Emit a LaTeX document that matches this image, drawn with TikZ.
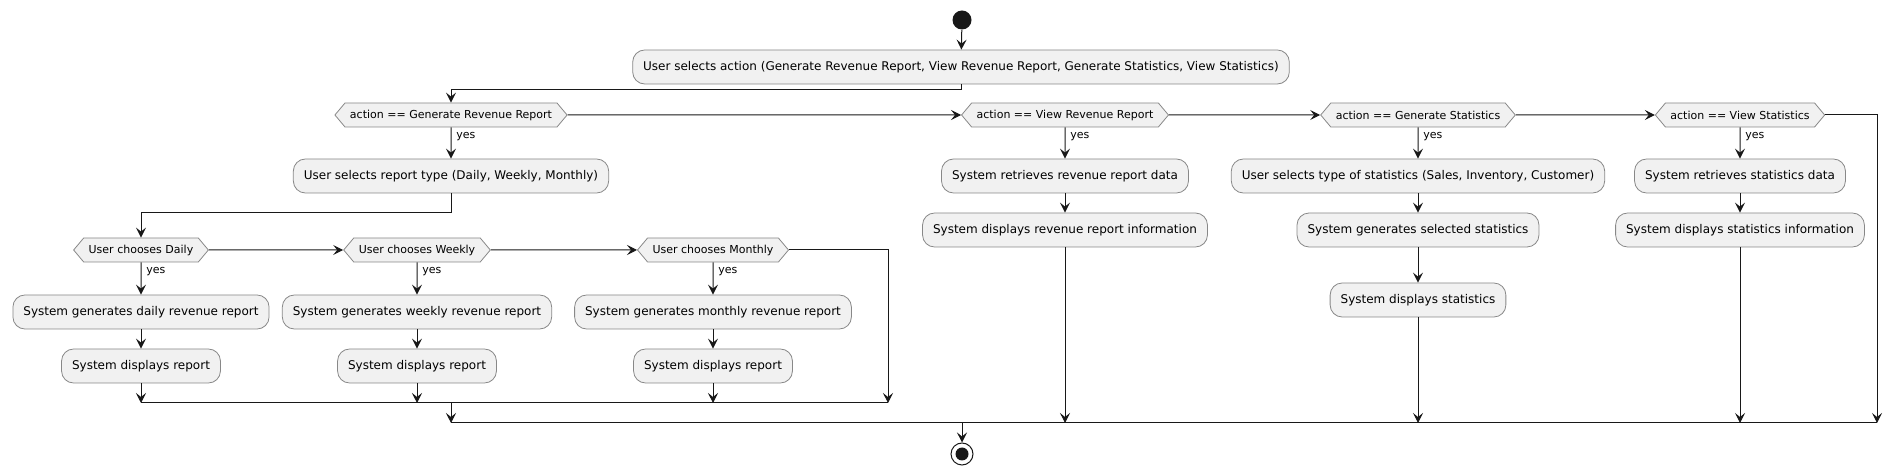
\documentclass[tikz,border=0pt]{standalone}
\usepackage{fontspec}
\setmainfont{DejaVu Sans}
\usetikzlibrary{arrows.meta}
\usetikzlibrary{positioning}
\usetikzlibrary{shapes.symbols}
\definecolor{boxfill}{HTML}{F1F1F1}
\definecolor{boxline}{HTML}{888888}
\definecolor{flowline}{HTML}{181818}
\begin{document}
\begin{tikzpicture}[x=0.5pt,y=-0.5pt,
  act/.style={draw=boxline,fill=boxfill,rounded corners=6pt,minimum height=17pt,inner xsep=5.25pt,inner ysep=0pt,font=\fontsize{6}{7}\selectfont},
  cond/.style={draw=boxline,fill=boxfill,signal,signal to=west and east,signal pointer angle=100,minimum height=12pt,inner xsep=2.5pt,inner ysep=0pt,font=\fontsize{5.5}{6.5}\selectfont},
  yeslbl/.style={anchor=north west,inner sep=0pt,font=\fontsize{5.5}{6.5}\selectfont},
  flow/.style={draw=flowline,line width=0.5pt,-{Stealth[length=5pt,width=5pt,inset=2pt]}},
  line/.style={draw=flowline,line width=0.5pt}]
  \useasboundingbox (0,0) rectangle (1902,475);
  \node (start) at (962,20)[circle,fill=flowline,minimum size=9.5pt,inner sep=0pt]{};
  \node (act0) at (961,67)[act]{User selects action (Generate Revenue Report, View Revenue Report, Generate Statistics, View Statistics)};

  \node (c1) at (451,115)[cond]{action == Generate Revenue Report};
  \node (c2) at (1065,115)[cond]{action == View Revenue Report};
  \node (c3) at (1418,115)[cond]{action == Generate Statistics};
  \node (c4) at (1740,115)[cond]{action == View Statistics};

  \node (a1) at (451,176)[act]{User selects report type (Daily, Weekly, Monthly)};
  \node (d1) at (141,250)[cond]{User chooses Daily};
  \node (d2) at (417,250)[cond]{User chooses Weekly};
  \node (d3) at (713,250)[cond]{User chooses Monthly};
  \node (g1) at (141,312)[act]{System generates daily revenue report};
  \node (g2) at (417,312)[act]{System generates weekly revenue report};
  \node (g3) at (713,312)[act]{System generates monthly revenue report};
  \node (s1) at (141,366)[act]{System displays report};
  \node (s2) at (417,366)[act]{System displays report};
  \node (s3) at (713,366)[act]{System displays report};

  \node (r1) at (1065,176)[act]{System retrieves revenue report data};
  \node (r2) at (1065,230)[act]{System displays revenue report information};
  \node (t1) at (1418,176)[act]{User selects type of statistics (Sales, Inventory, Customer)};
  \node (t2) at (1418,230)[act]{System generates selected statistics};
  \node (t3) at (1418,300)[act]{System displays statistics};
  \node (v1) at (1740,176)[act]{System retrieves statistics data};
  \node (v2) at (1740,230)[act]{System displays statistics information};

  \node (stop) at (962,454)[circle,draw=flowline,line width=0.5pt,minimum size=11pt,inner sep=0pt]{};
  \node (stopdot) at (stop)[circle,fill=flowline,minimum size=6.5pt,inner sep=0pt]{};

  \coordinate (j1l) at (141,403);
  \coordinate (j1r) at (888,403);
  \coordinate (j1) at (451,403);
  \coordinate (j2l) at (451,423);
  \coordinate (j2r) at (1877,423);
  \coordinate (j2) at (962,423);

  \foreach \c in {c1,c2,c3,c4,d1,d2,d3}
    \node[yeslbl] (yes\c) at ([xshift=2.5pt,yshift=-2.5pt]\c.south){yes};

  \draw[flow] (start) -- (act0);
  \draw[flow] (act0.south) -- ++(0,5) -| (c1);
  \draw[flow] (c1) -- (c2);
  \draw[flow] (c2) -- (c3);
  \draw[flow] (c3) -- (c4);
  \draw[flow] (c4) -| (j2r);
  \draw[flow] (c1) -- (a1);
  \draw[flow] (a1.south) -- ++(0,19) -| (d1);
  \draw[flow] (d1) -- (d2);
  \draw[flow] (d2) -- (d3);
  \draw[flow] (d3) -| (j1r);
  \foreach \d/\g/\s in {d1/g1/s1,d2/g2/s2,d3/g3/s3}{
    \draw[flow] (\d) -- (\g);
    \draw[flow] (\g) -- (\s);
    \draw[flow] (\s) -- (\s |- j1l);
  }
  \draw[line] (j1l) -- (j1r);
  \draw[flow] (j1) -- (j2l);

  \draw[flow] (c2) -- (r1);
  \draw[flow] (r1) -- (r2);
  \draw[flow] (r2) -- (r2 |- j2l);
  \draw[flow] (c3) -- (t1);
  \draw[flow] (t1) -- (t2);
  \draw[flow] (t2) -- (t3);
  \draw[flow] (t3) -- (t3 |- j2l);
  \draw[flow] (c4) -- (v1);
  \draw[flow] (v1) -- (v2);
  \draw[flow] (v2) -- (v2 |- j2l);
  \draw[line] (j2l) -- (j2r);
  \draw[flow] (j2) -- (stop);
\end{tikzpicture}
\end{document}
